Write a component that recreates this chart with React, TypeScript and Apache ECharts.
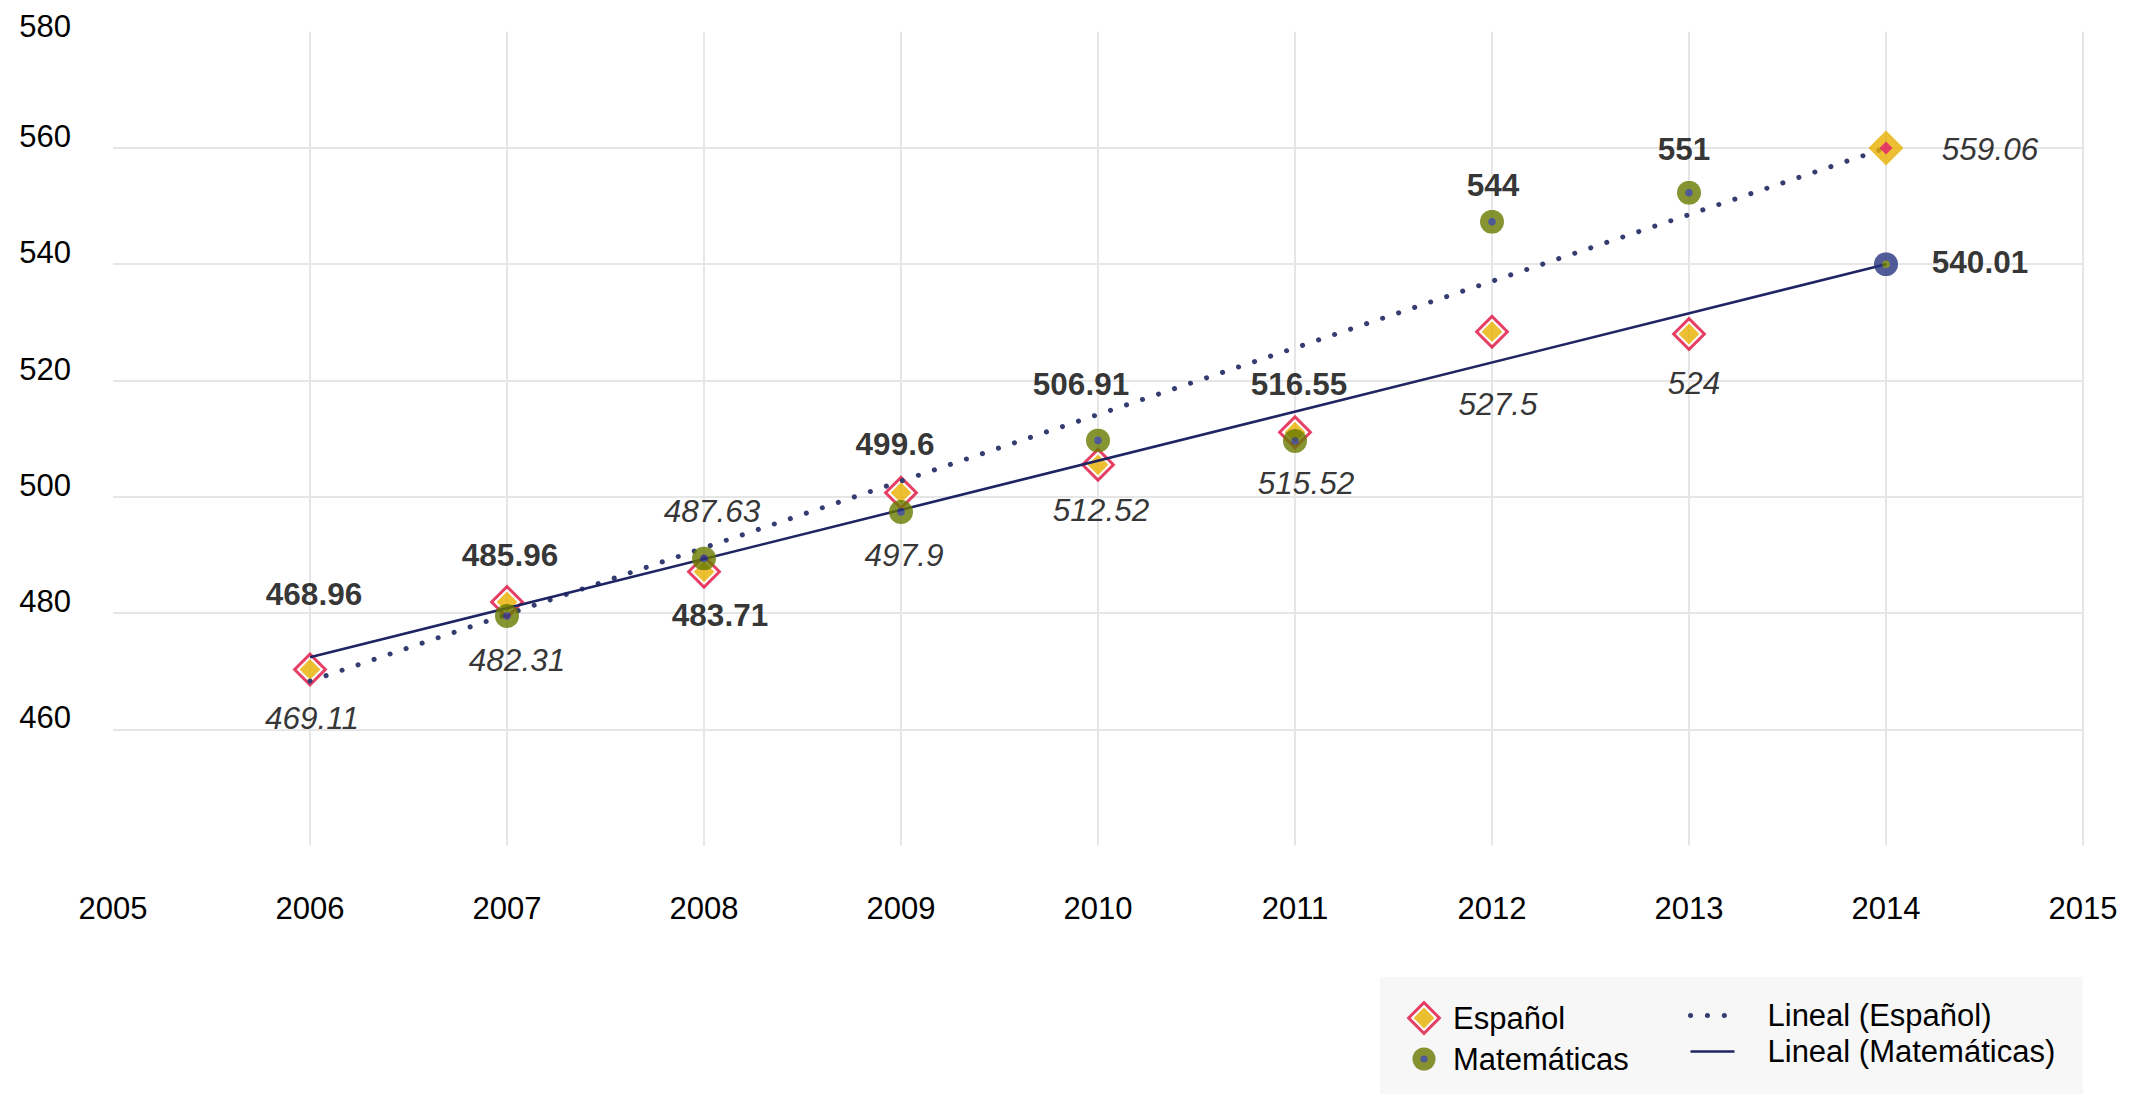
import React, { useEffect, useRef } from "react";
import * as echarts from "echarts";

// ---------- data ----------
const espanolYears = [2006, 2007, 2008, 2009, 2010, 2011, 2012, 2013];
const espanolValues = [470.3, 481.9, 487.1, 500.7, 505.5, 511.1, 528.4, 528.0];

const matematicasYears = [2007, 2008, 2009, 2010, 2011, 2012, 2013];
const matematicasValues = [479.5, 489.4, 497.4, 509.7, 509.6, 547.3, 552.3];

const trendYears = [2006, 2014];
const trendEspanol = [468.3, 560.0];
const trendMatematicas = [472.4, 540.0];

const labelYears = [2006, 2007, 2008, 2009, 2010, 2011, 2012, 2013, 2014];
const boldLabels = ["468.96", "485.96", "483.71", "499.6", "506.91", "516.55", "544", "551", "540.01"];
const italicLabels = ["469.11", "482.31", "487.63", "497.9", "512.52", "515.52", "527.5", "524", "559.06"];

const xMin = 2005;
const xMax = 2015;
const yMin = 440;
const yMax = 580;
const yStep = 20;

// ---------- label layout (anchor heights on the value axis, pixel nudges) ----------
const boldLabelAnchors = [483.3, 490.0, 479.7, 509.1, 519.45, 519.4, 553.6, 559.8, 540.4];
const boldLabelDx = [4, 3, 16, -6, -17, 4, 1, -5, 94];
const italicLabelAnchors = [461.9, 472.0, 497.55, 490.0, 497.8, 502.45, 516.0, 519.65, 559.9];
const italicLabelDx = [2, 10, 8, 3, 3, 11, 6, 5, 104];

// ---------- styles ----------
const RED = "#E0103F";
const YELLOW = "#E8B100";
const OLIVE = "#6A7A00";
const NAVY = "#27347F";
const DOT_NAVY = "#343D72";
const LINE_NAVY = "#1F2463";
const GRID = "#E6E6E6";
const TEXT = "#000";
const FONT = "'Liberation Sans', Arial, Helvetica, sans-serif";

const svgImage = (body: string, w: number, h: number) =>
  "image://data:image/svg+xml;charset=utf-8," +
  encodeURIComponent(
    `<svg xmlns="http://www.w3.org/2000/svg" width="${w}" height="${h}" viewBox="0 0 ${w} ${h}">${body}</svg>`
  );

const diamondPts = (c: number, r: number) => `${c},${c - r} ${c + r},${c} ${c},${c + r} ${c - r},${c}`;

const espanolSymbol = svgImage(
  `<polygon points="${diamondPts(18, 17.5)}" fill="${RED}"/>` +
    `<polygon points="${diamondPts(18, 13.3)}" fill="#ffffff"/>` +
    `<polygon points="${diamondPts(18, 10.4)}" fill="${YELLOW}"/>`,
  36,
  36
);
const espanolEndSymbol = svgImage(
  `<polygon points="${diamondPts(18, 17.5)}" fill="${YELLOW}"/>` +
    `<polygon points="${diamondPts(18, 6.5)}" fill="${RED}"/>`,
  36,
  36
);
const matSymbol = svgImage(
  `<circle cx="12" cy="12" r="12" fill="${OLIVE}"/><circle cx="12" cy="12" r="3.8" fill="${NAVY}"/>`,
  24,
  24
);
const matLegendSymbol = svgImage(
  `<circle cx="18" cy="18" r="11.5" fill="${OLIVE}"/><circle cx="18" cy="18" r="3.6" fill="${NAVY}"/>`,
  36,
  36
);
const matEndSymbol = svgImage(
  `<circle cx="12" cy="12" r="12" fill="${NAVY}"/><circle cx="12" cy="12" r="3.8" fill="${OLIVE}"/>`,
  24,
  24
);

const hiddenLegendSymbol = {
  opacity: 0,
  color: "rgba(0,0,0,0)",
  borderColor: "rgba(0,0,0,0)",
  borderWidth: 0,
};

export default function App() {
  const ref = useRef<HTMLDivElement>(null);

  useEffect(() => {
    document.body.style.margin = "0";
    if (!ref.current) return;
    const chart = echarts.init(ref.current, undefined, { renderer: "svg" });

    const labelSeries = (
      name: string,
      texts: string[],
      anchors: number[],
      dx: number[],
      extra: any
    ) => ({
      type: "scatter",
      name,
      silent: true,
      symbol: "circle",
      symbolSize: 1,
      itemStyle: { color: "rgba(0,0,0,0)" },
      z: 10,
      data: labelYears.map((yr, i) => ({
        value: [yr, anchors[i]],
        name: texts[i],
        label: { offset: [dx[i], 0] },
      })),
      label: {
        show: true,
        position: "inside",
        formatter: "{b}",
        fontSize: 31.5,
        color: TEXT,
        fontFamily: FONT,
        ...extra,
      },
      emphasis: { disabled: true },
    });

    chart.setOption({
      animation: false,
      backgroundColor: "#ffffff",
      grid: { left: 113, right: 63, top: 31.7, bottom: 248.4, containLabel: false },
      graphic: [
        {
          type: "rect",
          shape: { x: 1380, y: 977, width: 703, height: 117 },
          style: { fill: "#F7F7F7" },
          z: -1,
          silent: true,
        },
      ],
      xAxis: {
        type: "value",
        min: xMin,
        max: xMax,
        interval: 1,
        axisLine: { show: false },
        axisTick: { show: false },
        axisLabel: {
          formatter: (v: number) => String(v),
          fontSize: 31,
          color: TEXT,
          fontFamily: FONT,
          margin: 47,
        },
        splitLine: {
          show: true,
          showMinLine: false,
          showMaxLine: true,
          lineStyle: { color: GRID, width: 2 },
        },
      },
      yAxis: {
        type: "value",
        min: yMin,
        max: yMax,
        interval: yStep,
        axisLine: { show: false },
        axisTick: { show: false },
        axisLabel: {
          showMinLabel: false,
          fontSize: 31,
          color: TEXT,
          fontFamily: FONT,
          margin: 42,
          verticalAlign: "bottom",
          formatter: (v: number) => (v === yMax ? `{t|${v}}` : `{n|${v}}`),
          rich: {
            t: { fontSize: 31, color: TEXT, fontFamily: FONT, lineHeight: 10 },
            n: { fontSize: 31, color: TEXT, fontFamily: FONT, lineHeight: 23 },
          },
        },
        splitLine: {
          show: true,
          showMinLine: false,
          showMaxLine: false,
          lineStyle: { color: GRID, width: 2 },
        },
      },
      legend: [
        {
          data: [
            { name: "Español", icon: espanolSymbol },
            { name: "Matemáticas", icon: matLegendSymbol },
          ],
          orient: "vertical",
          left: 1400,
          top: 1000,
          padding: 0,
          itemWidth: 48,
          itemHeight: 36,
          itemGap: 5,
          selectedMode: false,
          textStyle: { fontSize: 31, color: TEXT, fontFamily: FONT },
        },
        {
          data: [
            { name: "Lineal (Español)", itemStyle: hiddenLegendSymbol },
            { name: "Lineal (Matemáticas)", itemStyle: hiddenLegendSymbol },
          ],
          orient: "vertical",
          left: 1688,
          top: 1000,
          padding: 0,
          itemWidth: 44,
          itemHeight: 36,
          itemGap: 5,
          selectedMode: false,
          lineStyle: { width: "inherit" },
          textStyle: { fontSize: 31, color: TEXT, fontFamily: FONT, padding: [0, 0, 0, 28] },
        },
      ],
      series: [
        {
          type: "scatter",
          name: "Español",
          symbol: espanolSymbol,
          symbolSize: 36,
          data: espanolYears.map((yr, i) => [yr, espanolValues[i]]),
          z: 2,
        },
        {
          type: "line",
          name: "Lineal (Español)",
          symbol: "none",
          data: trendYears.map((yr, i) => [yr, trendEspanol[i]]),
          lineStyle: { color: DOT_NAVY, width: 5, type: [0.1, 16.8], cap: "round" },
          itemStyle: { color: DOT_NAVY },
          z: 3,
        },
        {
          type: "line",
          name: "Lineal (Matemáticas)",
          symbol: "none",
          data: trendYears.map((yr, i) => [yr, trendMatematicas[i]]),
          lineStyle: { color: LINE_NAVY, width: 2.6 },
          itemStyle: { color: LINE_NAVY },
          z: 3,
        },
        {
          type: "scatter",
          name: "Matemáticas",
          symbol: matSymbol,
          symbolSize: 24,
          data: matematicasYears.map((yr, i) => [yr, matematicasValues[i]]),
          z: 4,
        },
        {
          type: "scatter",
          name: "trendEnds",
          silent: true,
          z: 5,
          data: [
            { value: [trendYears[1], trendEspanol[1]], symbol: espanolEndSymbol, symbolSize: 36 },
            { value: [trendYears[1], trendMatematicas[1]], symbol: matEndSymbol, symbolSize: 24 },
          ],
        },
        labelSeries("boldLabels", boldLabels, boldLabelAnchors, boldLabelDx, { fontWeight: "bold" }),
        labelSeries("italicLabels", italicLabels, italicLabelAnchors, italicLabelDx, {
          fontStyle: "italic",
        }),
      ],
    });

    return () => chart.dispose();
  }, []);

  return (
    <div
      ref={ref}
      style={{ position: "absolute", left: 0, top: 0, width: 2146, height: 1094, background: "#fff" }}
    />
  );
}
